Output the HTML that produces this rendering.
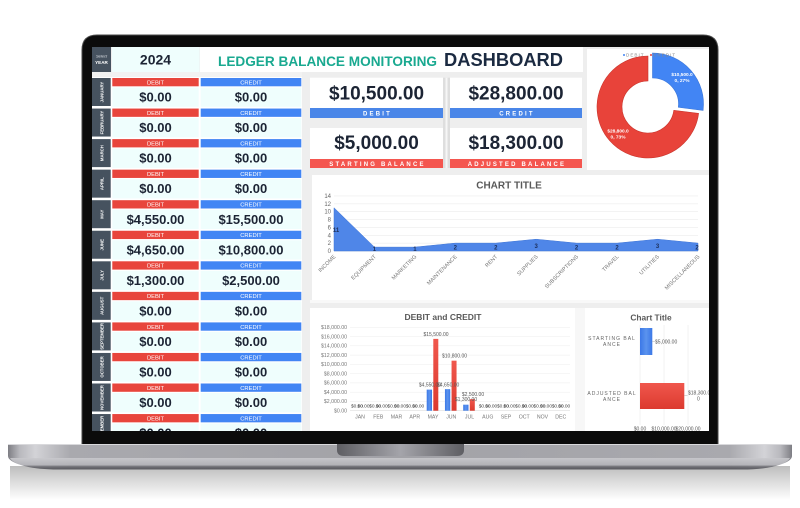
<!DOCTYPE html>
<html>
<head>
<meta charset="utf-8">
<style>
html,body{margin:0;padding:0;background:#fff;}
body{width:800px;height:508px;overflow:hidden;}
svg{display:block;font-family:"Liberation Sans",Arial,sans-serif;}
.v{font-size:13px;font-weight:bold;fill:#1c2434;text-anchor:middle;}
.hb{font-size:5.8px;fill:#fff;text-anchor:middle;}
.ml{font-size:4.3px;fill:#fff;text-anchor:middle;font-weight:bold;}
.kv{font-size:19px;font-weight:bold;fill:#1c2434;text-anchor:middle;}
.kl{font-size:6px;font-weight:bold;fill:#fff;text-anchor:middle;letter-spacing:2.2px;}
.ay{font-size:6px;fill:#666;text-anchor:end;}
.cat{font-size:5.5px;fill:#777;text-anchor:end;}
.dl{font-size:6px;font-weight:bold;fill:#1c2f5a;text-anchor:middle;}
.by{font-size:5.2px;fill:#777;text-anchor:end;}
.bm{font-size:5.2px;fill:#777;text-anchor:middle;}
.bz{font-size:4.8px;fill:#444;text-anchor:middle;}
.bl{font-size:5px;fill:#555;text-anchor:middle;}
.rl{font-size:5px;fill:#666;text-anchor:middle;letter-spacing:1px;}
.rv{font-size:5px;fill:#555;}
</style>
</head>
<body>
<svg width="800" height="508" viewBox="0 0 800 508" xmlns="http://www.w3.org/2000/svg">
<defs>
  <clipPath id="scr"><rect x="92" y="47" width="617" height="384"/></clipPath>
  <linearGradient id="baseTop" x1="0" y1="0" x2="1" y2="0">
    <stop offset="0" stop-color="#7e7e84"/>
    <stop offset="0.015" stop-color="#b9b9be"/>
    <stop offset="0.035" stop-color="#d3d3d7"/>
    <stop offset="0.08" stop-color="#a9a9ae"/>
    <stop offset="0.5" stop-color="#a2a2a7"/>
    <stop offset="0.92" stop-color="#a9a9ae"/>
    <stop offset="0.965" stop-color="#d3d3d7"/>
    <stop offset="0.985" stop-color="#b9b9be"/>
    <stop offset="1" stop-color="#7e7e84"/>
  </linearGradient>
  <linearGradient id="baseLow" x1="0" y1="0" x2="0" y2="1">
    <stop offset="0" stop-color="#c9c9cd"/>
    <stop offset="0.6" stop-color="#b3b3b8"/>
    <stop offset="0.75" stop-color="#6a6a70"/>
    <stop offset="1" stop-color="#4e4e54"/>
  </linearGradient>
  <linearGradient id="notch" x1="0" y1="0" x2="1" y2="0">
    <stop offset="0" stop-color="#5e5e63"/>
    <stop offset="0.5" stop-color="#a4a4aa"/>
    <stop offset="1" stop-color="#5e5e63"/>
  </linearGradient>
  <radialGradient id="shadow" cx="0.5" cy="0" r="0.5" gradientTransform="matrix(1 0 0 0.08 0 0)">
    <stop offset="0" stop-color="#b4b4b4"/>
    <stop offset="1" stop-color="#ffffff" stop-opacity="0"/>
  </radialGradient>
  <linearGradient id="shadowV" x1="0" y1="0" x2="0" y2="1">
    <stop offset="0" stop-color="#bdbdbd"/>
    <stop offset="0.4" stop-color="#d8d8d8"/>
    <stop offset="1" stop-color="#ffffff"/>
  </linearGradient>
  <linearGradient id="bluebar" x1="0" y1="0" x2="1" y2="0">
    <stop offset="0" stop-color="#3b78e7"/>
    <stop offset="0.5" stop-color="#5b93ee"/>
    <stop offset="1" stop-color="#3b78e7"/>
  </linearGradient>
  <linearGradient id="redbar" x1="0" y1="0" x2="0" y2="1">
    <stop offset="0" stop-color="#f0574d"/>
    <stop offset="1" stop-color="#dc3a2f"/>
  </linearGradient>
</defs>

<!-- shadow under laptop -->
<rect x="10" y="466" width="780" height="34" fill="url(#shadowV)"/>

<!-- laptop bezel -->
<path d="M82,450 V50 Q82,35 97,35 H703 Q718,35 718,50 V450 Z" fill="#0b0b0b" stroke="#4a4a4a" stroke-width="1"/>

<!-- laptop base -->
<path d="M8,444 H792 V456 C792,463 772,469 742,469 H58 C28,469 8,463 8,456 Z" fill="url(#baseTop)"/>
<path d="M10,458 H790 C786,465 768,469.5 742,469.5 H58 C32,469.5 14,465 10,458 Z" fill="url(#baseLow)" opacity="0.9"/>
<rect x="8" y="444" width="784" height="1" fill="#d9d9dc"/>
<path d="M337,444 H464 V450 Q464,456 457,456 H344 Q337,456 337,450 Z" fill="url(#notch)"/>

<!-- SCREEN -->
<g clip-path="url(#scr)">
  <rect x="92" y="47" width="617" height="384" fill="#eeeeee"/>
  <!-- left column bg -->
  <rect x="92" y="72" width="210" height="359" fill="#ffffff"/>
  <rect x="92" y="72" width="210" height="5" fill="#f2f2f2"/>

  <!-- header -->
  <rect x="92" y="47" width="19" height="25" fill="#46525f"/>
  <text x="101.5" y="57.3" font-size="4" font-style="italic" fill="#dfe3e8" text-anchor="middle">Select</text>
  <text x="101.5" y="63.8" font-size="4.6" font-weight="bold" fill="#fff" text-anchor="middle">YEAR</text>
  <rect x="112" y="47" width="87.5" height="25" fill="#effefd"/>
  <text x="155.5" y="64.5" font-size="14" font-weight="bold" fill="#1c2434" text-anchor="middle">2024</text>
  <rect x="200" y="47" width="383" height="25" fill="#ffffff"/>
  <text x="218" y="66" font-size="13.6" font-weight="bold" fill="#19a990" textLength="219" lengthAdjust="spacingAndGlyphs">LEDGER BALANCE MONITORING</text>
  <text x="444" y="66" font-size="18.3" font-weight="bold" fill="#1b2a41" textLength="119" lengthAdjust="spacingAndGlyphs">DASHBOARD</text>

  <!-- month rows -->
  <g transform="translate(0,78)">
    <rect x="92" y="0" width="18.7" height="28" fill="#46525f"/>
    <text class="ml" transform="translate(101.8,14) rotate(-90)" y="1.5">JANUARY</text>
    <rect x="112.3" y="0" width="86.4" height="8.3" fill="#e8453c"/><text class="hb" x="155.5" y="6.4">DEBIT</text>
    <rect x="112.3" y="9.5" width="86.4" height="19.3" fill="#effefd"/><text class="v" x="155.5" y="23.6">$0.00</text>
    <rect x="200.7" y="0" width="100.6" height="8.3" fill="#4285f4"/><text class="hb" x="251" y="6.4">CREDIT</text>
    <rect x="200.7" y="9.5" width="100.6" height="19.3" fill="#effefd"/><text class="v" x="251" y="23.6">$0.00</text>
  </g>
  <g transform="translate(0,108.55)">
    <rect x="92" y="0" width="18.7" height="28" fill="#46525f"/>
    <text class="ml" transform="translate(101.8,14) rotate(-90)" y="1.5">FEBRUARY</text>
    <rect x="112.3" y="0" width="86.4" height="8.3" fill="#e8453c"/><text class="hb" x="155.5" y="6.4">DEBIT</text>
    <rect x="112.3" y="9.5" width="86.4" height="19.3" fill="#effefd"/><text class="v" x="155.5" y="23.6">$0.00</text>
    <rect x="200.7" y="0" width="100.6" height="8.3" fill="#4285f4"/><text class="hb" x="251" y="6.4">CREDIT</text>
    <rect x="200.7" y="9.5" width="100.6" height="19.3" fill="#effefd"/><text class="v" x="251" y="23.6">$0.00</text>
  </g>
  <g transform="translate(0,139.1)">
    <rect x="92" y="0" width="18.7" height="28" fill="#46525f"/>
    <text class="ml" transform="translate(101.8,14) rotate(-90)" y="1.5">MARCH</text>
    <rect x="112.3" y="0" width="86.4" height="8.3" fill="#e8453c"/><text class="hb" x="155.5" y="6.4">DEBIT</text>
    <rect x="112.3" y="9.5" width="86.4" height="19.3" fill="#effefd"/><text class="v" x="155.5" y="23.6">$0.00</text>
    <rect x="200.7" y="0" width="100.6" height="8.3" fill="#4285f4"/><text class="hb" x="251" y="6.4">CREDIT</text>
    <rect x="200.7" y="9.5" width="100.6" height="19.3" fill="#effefd"/><text class="v" x="251" y="23.6">$0.00</text>
  </g>
  <g transform="translate(0,169.65)">
    <rect x="92" y="0" width="18.7" height="28" fill="#46525f"/>
    <text class="ml" transform="translate(101.8,14) rotate(-90)" y="1.5">APRIL</text>
    <rect x="112.3" y="0" width="86.4" height="8.3" fill="#e8453c"/><text class="hb" x="155.5" y="6.4">DEBIT</text>
    <rect x="112.3" y="9.5" width="86.4" height="19.3" fill="#effefd"/><text class="v" x="155.5" y="23.6">$0.00</text>
    <rect x="200.7" y="0" width="100.6" height="8.3" fill="#4285f4"/><text class="hb" x="251" y="6.4">CREDIT</text>
    <rect x="200.7" y="9.5" width="100.6" height="19.3" fill="#effefd"/><text class="v" x="251" y="23.6">$0.00</text>
  </g>
  <g transform="translate(0,200.2)">
    <rect x="92" y="0" width="18.7" height="28" fill="#46525f"/>
    <text class="ml" transform="translate(101.8,14) rotate(-90)" y="1.5">MAY</text>
    <rect x="112.3" y="0" width="86.4" height="8.3" fill="#e8453c"/><text class="hb" x="155.5" y="6.4">DEBIT</text>
    <rect x="112.3" y="9.5" width="86.4" height="19.3" fill="#effefd"/><text class="v" x="155.5" y="23.6">$4,550.00</text>
    <rect x="200.7" y="0" width="100.6" height="8.3" fill="#4285f4"/><text class="hb" x="251" y="6.4">CREDIT</text>
    <rect x="200.7" y="9.5" width="100.6" height="19.3" fill="#effefd"/><text class="v" x="251" y="23.6">$15,500.00</text>
  </g>
  <g transform="translate(0,230.75)">
    <rect x="92" y="0" width="18.7" height="28" fill="#46525f"/>
    <text class="ml" transform="translate(101.8,14) rotate(-90)" y="1.5">JUNE</text>
    <rect x="112.3" y="0" width="86.4" height="8.3" fill="#e8453c"/><text class="hb" x="155.5" y="6.4">DEBIT</text>
    <rect x="112.3" y="9.5" width="86.4" height="19.3" fill="#effefd"/><text class="v" x="155.5" y="23.6">$4,650.00</text>
    <rect x="200.7" y="0" width="100.6" height="8.3" fill="#4285f4"/><text class="hb" x="251" y="6.4">CREDIT</text>
    <rect x="200.7" y="9.5" width="100.6" height="19.3" fill="#effefd"/><text class="v" x="251" y="23.6">$10,800.00</text>
  </g>
  <g transform="translate(0,261.3)">
    <rect x="92" y="0" width="18.7" height="28" fill="#46525f"/>
    <text class="ml" transform="translate(101.8,14) rotate(-90)" y="1.5">JULY</text>
    <rect x="112.3" y="0" width="86.4" height="8.3" fill="#e8453c"/><text class="hb" x="155.5" y="6.4">DEBIT</text>
    <rect x="112.3" y="9.5" width="86.4" height="19.3" fill="#effefd"/><text class="v" x="155.5" y="23.6">$1,300.00</text>
    <rect x="200.7" y="0" width="100.6" height="8.3" fill="#4285f4"/><text class="hb" x="251" y="6.4">CREDIT</text>
    <rect x="200.7" y="9.5" width="100.6" height="19.3" fill="#effefd"/><text class="v" x="251" y="23.6">$2,500.00</text>
  </g>
  <g transform="translate(0,291.85)">
    <rect x="92" y="0" width="18.7" height="28" fill="#46525f"/>
    <text class="ml" transform="translate(101.8,14) rotate(-90)" y="1.5">AUGUST</text>
    <rect x="112.3" y="0" width="86.4" height="8.3" fill="#e8453c"/><text class="hb" x="155.5" y="6.4">DEBIT</text>
    <rect x="112.3" y="9.5" width="86.4" height="19.3" fill="#effefd"/><text class="v" x="155.5" y="23.6">$0.00</text>
    <rect x="200.7" y="0" width="100.6" height="8.3" fill="#4285f4"/><text class="hb" x="251" y="6.4">CREDIT</text>
    <rect x="200.7" y="9.5" width="100.6" height="19.3" fill="#effefd"/><text class="v" x="251" y="23.6">$0.00</text>
  </g>
  <g transform="translate(0,322.4)">
    <rect x="92" y="0" width="18.7" height="28" fill="#46525f"/>
    <text class="ml" transform="translate(101.8,14) rotate(-90)" y="1.5">SEPTEMBER</text>
    <rect x="112.3" y="0" width="86.4" height="8.3" fill="#e8453c"/><text class="hb" x="155.5" y="6.4">DEBIT</text>
    <rect x="112.3" y="9.5" width="86.4" height="19.3" fill="#effefd"/><text class="v" x="155.5" y="23.6">$0.00</text>
    <rect x="200.7" y="0" width="100.6" height="8.3" fill="#4285f4"/><text class="hb" x="251" y="6.4">CREDIT</text>
    <rect x="200.7" y="9.5" width="100.6" height="19.3" fill="#effefd"/><text class="v" x="251" y="23.6">$0.00</text>
  </g>
  <g transform="translate(0,352.95)">
    <rect x="92" y="0" width="18.7" height="28" fill="#46525f"/>
    <text class="ml" transform="translate(101.8,14) rotate(-90)" y="1.5">OCTOBER</text>
    <rect x="112.3" y="0" width="86.4" height="8.3" fill="#e8453c"/><text class="hb" x="155.5" y="6.4">DEBIT</text>
    <rect x="112.3" y="9.5" width="86.4" height="19.3" fill="#effefd"/><text class="v" x="155.5" y="23.6">$0.00</text>
    <rect x="200.7" y="0" width="100.6" height="8.3" fill="#4285f4"/><text class="hb" x="251" y="6.4">CREDIT</text>
    <rect x="200.7" y="9.5" width="100.6" height="19.3" fill="#effefd"/><text class="v" x="251" y="23.6">$0.00</text>
  </g>
  <g transform="translate(0,383.5)">
    <rect x="92" y="0" width="18.7" height="28" fill="#46525f"/>
    <text class="ml" transform="translate(101.8,14) rotate(-90)" y="1.5">NOVEMBER</text>
    <rect x="112.3" y="0" width="86.4" height="8.3" fill="#e8453c"/><text class="hb" x="155.5" y="6.4">DEBIT</text>
    <rect x="112.3" y="9.5" width="86.4" height="19.3" fill="#effefd"/><text class="v" x="155.5" y="23.6">$0.00</text>
    <rect x="200.7" y="0" width="100.6" height="8.3" fill="#4285f4"/><text class="hb" x="251" y="6.4">CREDIT</text>
    <rect x="200.7" y="9.5" width="100.6" height="19.3" fill="#effefd"/><text class="v" x="251" y="23.6">$0.00</text>
  </g>
  <g transform="translate(0,414.05)">
    <rect x="92" y="0" width="18.7" height="28" fill="#46525f"/>
    <text class="ml" transform="translate(101.8,14) rotate(-90)" y="1.5">DECEMBER</text>
    <rect x="112.3" y="0" width="86.4" height="8.3" fill="#e8453c"/><text class="hb" x="155.5" y="6.4">DEBIT</text>
    <rect x="112.3" y="9.5" width="86.4" height="19.3" fill="#effefd"/><text class="v" x="155.5" y="23.6">$0.00</text>
    <rect x="200.7" y="0" width="100.6" height="8.3" fill="#4285f4"/><text class="hb" x="251" y="6.4">CREDIT</text>
    <rect x="200.7" y="9.5" width="100.6" height="19.3" fill="#effefd"/><text class="v" x="251" y="23.6">$0.00</text>
  </g>

  <!-- KPI cards -->
  <rect x="443" y="77.7" width="7" height="90.3" fill="#dedede"/>
  <rect x="445.5" y="77.7" width="2" height="90.3" fill="#f6f6f6"/>
  <rect x="310" y="77.7" width="133" height="40.3" fill="#ffffff"/>
  <text class="kv" x="376.5" y="99.5">$10,500.00</text>
  <rect x="310" y="108" width="133" height="10" fill="#4a86e8"/>
  <text class="kl" x="377.5" y="115.3">DEBIT</text>

  <rect x="450" y="77.7" width="132" height="40.3" fill="#ffffff"/>
  <text class="kv" x="516" y="99.5">$28,800.00</text>
  <rect x="450" y="108" width="132" height="10" fill="#4a86e8"/>
  <text class="kl" x="517" y="115.3">CREDIT</text>

  <rect x="310" y="128" width="133" height="40" fill="#ffffff"/>
  <text class="kv" x="376.5" y="148.8">$5,000.00</text>
  <rect x="310" y="159" width="133" height="9" fill="#f4564f"/>
  <text class="kl" x="377.5" y="165.8">STARTING BALANCE</text>

  <rect x="450" y="128" width="132" height="40" fill="#ffffff"/>
  <text class="kv" x="516" y="148.8">$18,300.00</text>
  <rect x="450" y="159" width="132" height="9" fill="#f4564f"/>
  <text class="kl" x="517" y="165.8">ADJUSTED BALANCE</text>

  <!-- Donut panel -->
  <rect x="587" y="49" width="122" height="121" fill="#ffffff"/>
  <path d="M698.6,113.4 A51,51 0 1 1 648,56 L648,81 A26,26 0 1 0 673.8,110.3 Z" fill="#e8433a" stroke="#c9362d" stroke-width="0.6"/>
  <path d="M652.5,53 A51,51 0 0 1 703.1,110.4 L678.3,107.3 A26,26 0 0 0 652.5,78 Z" fill="#4285f4" stroke="#3a76d8" stroke-width="0.6"/>
  <circle cx="624" cy="55" r="1" fill="#4285f4"/>
  <text x="626" y="56.6" font-size="4.6" fill="#888" letter-spacing="1">DEBIT</text>
  <circle cx="651" cy="55" r="1" fill="#e8433a"/>
  <text x="653" y="56.6" font-size="4.6" fill="#888" letter-spacing="1">CREDIT</text>
  <text x="682" y="76" font-size="4.8" font-weight="bold" fill="#fff" text-anchor="middle">$10,500.0</text>
  <text x="682" y="82" font-size="4.8" font-weight="bold" fill="#fff" text-anchor="middle">0, 27%</text>
  <text x="618" y="132.5" font-size="4.8" font-weight="bold" fill="#fff" text-anchor="middle">$28,800.0</text>
  <text x="618" y="138.5" font-size="4.8" font-weight="bold" fill="#fff" text-anchor="middle">0, 73%</text>

  <!-- Area chart panel -->
  <rect x="312" y="175" width="397" height="125" fill="#ffffff"/>
  <text x="509" y="188.5" font-size="10" font-weight="bold" fill="#595959" text-anchor="middle">CHART TITLE</text>
  <g stroke="#ececec" stroke-width="0.6">
    <line x1="334" y1="243.14" x2="698" y2="243.14"/>
    <line x1="334" y1="235.28" x2="698" y2="235.28"/>
    <line x1="334" y1="227.42" x2="698" y2="227.42"/>
    <line x1="334" y1="219.56" x2="698" y2="219.56"/>
    <line x1="334" y1="211.7" x2="698" y2="211.7"/>
    <line x1="334" y1="203.84" x2="698" y2="203.84"/>
    <line x1="334" y1="195.98" x2="698" y2="195.98"/>
  </g>
  <line x1="334" y1="251" x2="698" y2="251" stroke="#d0d0d0" stroke-width="0.6"/>
  <text class="ay" x="331" y="253">0</text>
  <text class="ay" x="331" y="245.1">2</text>
  <text class="ay" x="331" y="237.3">4</text>
  <text class="ay" x="331" y="229.4">6</text>
  <text class="ay" x="331" y="221.6">8</text>
  <text class="ay" x="331" y="213.7">10</text>
  <text class="ay" x="331" y="205.8">12</text>
  <text class="ay" x="331" y="198">14</text>
  <polygon points="334,251 334,207.8 374.4,247.1 414.9,247.1 455.3,243.1 495.8,243.1 536.2,239.2 576.6,243.1 617.1,243.1 657.5,239.2 698,243.1 698,251" fill="#4f86e8" stroke="#3d74d6" stroke-width="0.5"/>
  <text class="dl" x="336" y="232">11</text>
  <text class="dl" x="374.4" y="251">1</text>
  <text class="dl" x="414.9" y="251">1</text>
  <text class="dl" x="455.3" y="249.5">2</text>
  <text class="dl" x="495.8" y="249.5">2</text>
  <text class="dl" x="536.2" y="248">3</text>
  <text class="dl" x="576.6" y="249.5">2</text>
  <text class="dl" x="617.1" y="249.5">2</text>
  <text class="dl" x="657.5" y="248">3</text>
  <text class="dl" x="697" y="249.5">2</text>
  <text class="cat" transform="translate(336,257) rotate(-45)">INCOME</text>
  <text class="cat" transform="translate(376.4,257) rotate(-45)">EQUIPMENT</text>
  <text class="cat" transform="translate(416.9,257) rotate(-45)">MARKETING</text>
  <text class="cat" transform="translate(457.3,257) rotate(-45)">MAINTENANCE</text>
  <text class="cat" transform="translate(497.8,257) rotate(-45)">RENT</text>
  <text class="cat" transform="translate(538.2,257) rotate(-45)">SUPPLIES</text>
  <text class="cat" transform="translate(578.6,257) rotate(-45)">SUBSCRIPTIONS</text>
  <text class="cat" transform="translate(619.1,257) rotate(-45)">TRAVEL</text>
  <text class="cat" transform="translate(659.5,257) rotate(-45)">UTILITIES</text>
  <text class="cat" transform="translate(700,257) rotate(-45)">MISCELLANEOUS</text>

  <!-- strip between rows -->
  <rect x="310" y="300" width="399" height="3" fill="#f8f8f8"/>

  <!-- Debit and Credit bar chart -->
  <rect x="575" y="308" width="10" height="123" fill="#f7f7f7"/>
  <rect x="310" y="308" width="265" height="123" fill="#ffffff"/>
  <text x="443" y="320" font-size="8.5" font-weight="bold" fill="#595959" text-anchor="middle">DEBIT and CREDIT</text>
  <g stroke="#ececec" stroke-width="0.5">
    <line x1="350" y1="401.43" x2="570" y2="401.43"/>
    <line x1="350" y1="392.17" x2="570" y2="392.17"/>
    <line x1="350" y1="382.9" x2="570" y2="382.9"/>
    <line x1="350" y1="373.63" x2="570" y2="373.63"/>
    <line x1="350" y1="364.37" x2="570" y2="364.37"/>
    <line x1="350" y1="355.1" x2="570" y2="355.1"/>
    <line x1="350" y1="345.83" x2="570" y2="345.83"/>
    <line x1="350" y1="336.57" x2="570" y2="336.57"/>
    <line x1="350" y1="327.3" x2="570" y2="327.3"/>
  </g>
  <line x1="350" y1="410.7" x2="570" y2="410.7" stroke="#d6d6d6" stroke-width="0.5"/>
  <text class="by" x="347" y="412.5">$0.00</text>
  <text class="by" x="347" y="403.2">$2,000.00</text>
  <text class="by" x="347" y="394">$4,000.00</text>
  <text class="by" x="347" y="384.7">$6,000.00</text>
  <text class="by" x="347" y="375.4">$8,000.00</text>
  <text class="by" x="347" y="366.2">$10,000.00</text>
  <text class="by" x="347" y="356.9">$12,000.00</text>
  <text class="by" x="347" y="347.6">$14,000.00</text>
  <text class="by" x="347" y="338.4">$16,000.00</text>
  <text class="by" x="347" y="329.1">$18,000.00</text>
  <!-- bars -->
  <rect x="426.7" y="389.62" width="5.3" height="21.08" fill="url(#bluebar)"/>
  <rect x="433.3" y="338.88" width="5" height="71.82" fill="url(#redbar)"/>
  <rect x="444.95" y="389.16" width="5.3" height="21.54" fill="url(#bluebar)"/>
  <rect x="451.55" y="360.66" width="5" height="50.04" fill="url(#redbar)"/>
  <rect x="463.2" y="404.68" width="5.3" height="6.02" fill="url(#bluebar)"/>
  <rect x="469.8" y="399.12" width="5" height="11.58" fill="url(#redbar)"/>
  <!-- bar labels -->
  <text class="bl" x="430" y="386.5">$4,550.00</text>
  <text class="bl" x="436" y="335.8">$15,500.00</text>
  <text class="bl" x="448.2" y="386.5">$4,650.00</text>
  <text class="bl" x="454.5" y="357.6">$10,800.00</text>
  <text class="bl" x="466" y="401">$1,300.00</text>
  <text class="bl" x="473" y="396">$2,500.00</text>
  <text class="bz" x="357" y="407.7">$0.00</text><text class="bz" x="363.5" y="407.7">$0.00</text>
  <text class="bz" x="375.2" y="407.7">$0.00</text><text class="bz" x="381.7" y="407.7">$0.00</text>
  <text class="bz" x="393.5" y="407.7">$0.00</text><text class="bz" x="400" y="407.7">$0.00</text>
  <text class="bz" x="411.7" y="407.7">$0.00</text><text class="bz" x="418.2" y="407.7">$0.00</text>
  <text class="bz" x="484.7" y="407.7">$0.00</text><text class="bz" x="491.2" y="407.7">$0.00</text>
  <text class="bz" x="503" y="407.7">$0.00</text><text class="bz" x="509.5" y="407.7">$0.00</text>
  <text class="bz" x="521.2" y="407.7">$0.00</text><text class="bz" x="527.7" y="407.7">$0.00</text>
  <text class="bz" x="539.5" y="407.7">$0.00</text><text class="bz" x="546" y="407.7">$0.00</text>
  <text class="bz" x="557.7" y="407.7">$0.00</text><text class="bz" x="564.2" y="407.7">$0.00</text>
  <!-- month labels -->
  <text class="bm" x="360" y="418.5">JAN</text>
  <text class="bm" x="378.25" y="418.5">FEB</text>
  <text class="bm" x="396.5" y="418.5">MAR</text>
  <text class="bm" x="414.75" y="418.5">APR</text>
  <text class="bm" x="433" y="418.5">MAY</text>
  <text class="bm" x="451.25" y="418.5">JUN</text>
  <text class="bm" x="469.5" y="418.5">JUL</text>
  <text class="bm" x="487.75" y="418.5">AUG</text>
  <text class="bm" x="506" y="418.5">SEP</text>
  <text class="bm" x="524.25" y="418.5">OCT</text>
  <text class="bm" x="542.5" y="418.5">NOV</text>
  <text class="bm" x="560.75" y="418.5">DEC</text>

  <!-- Right bar chart -->
  <rect x="585" y="308" width="124" height="123" fill="#ffffff"/>
  <text x="651" y="320.7" font-size="8.4" font-weight="bold" fill="#595959" text-anchor="middle">Chart Title</text>
  <g stroke="#e6e6e6" stroke-width="0.5">
    <line x1="640" y1="325" x2="640" y2="425"/>
    <line x1="664" y1="325" x2="664" y2="425"/>
    <line x1="688" y1="325" x2="688" y2="425"/>
  </g>
  <rect x="640" y="328" width="12.3" height="27" fill="url(#bluebar)"/>
  <rect x="640" y="383" width="44.3" height="26" fill="url(#redbar)"/>
  <text class="rl" x="612" y="340">STARTING BAL</text>
  <text class="rl" x="612" y="346">ANCE</text>
  <text class="rl" x="612" y="395">ADJUSTED BAL</text>
  <text class="rl" x="612" y="401">ANCE</text>
  <line x1="652.3" y1="341.5" x2="655" y2="341.5" stroke="#999" stroke-width="0.4"/>
  <text class="rv" x="655" y="343.5">$5,000.00</text>
  <line x1="684.3" y1="395.5" x2="687.5" y2="395.5" stroke="#999" stroke-width="0.4"/>
  <text class="rv" x="688" y="394.5">$18,300.0</text>
  <text class="rv" x="697" y="400.5">0</text>
  <text class="rv" x="640" y="430.5" text-anchor="middle">$0.00</text>
  <text class="rv" x="664" y="430.5" text-anchor="middle">$10,000.00</text>
  <text class="rv" x="688" y="430.5" text-anchor="middle">$20,000.00</text>
</g>
</svg>
</body>
</html>
